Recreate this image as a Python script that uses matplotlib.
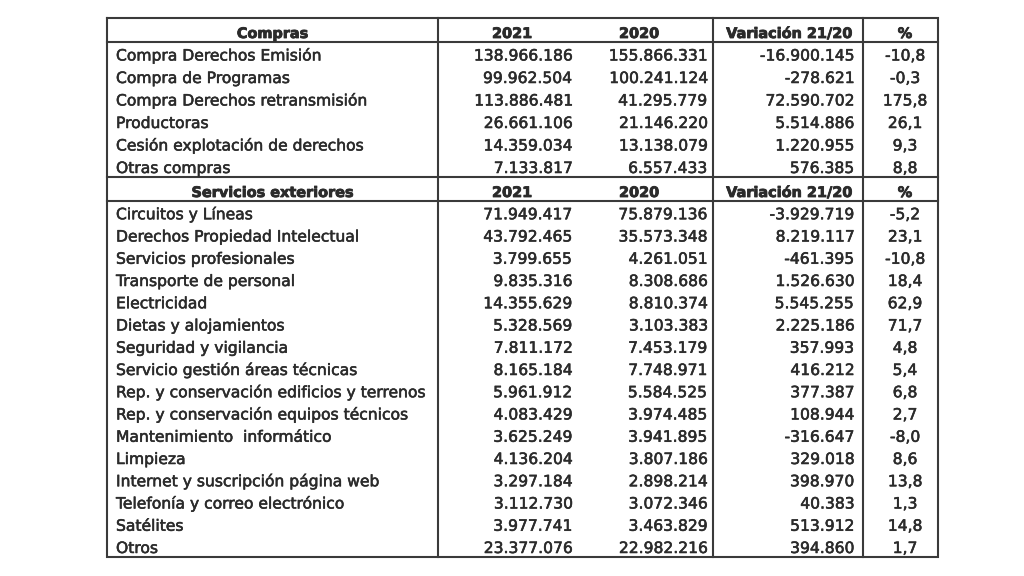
import matplotlib
matplotlib.use("Agg")
import matplotlib.pyplot as plt
import matplotlib.patheffects as pe

compras_labels = ["Compra Derechos Emisión", "Compra de Programas", "Compra Derechos retransmisión",
                  "Productoras", "Cesión explotación de derechos", "Otras compras"]
compras_2021 = [138966186, 99962504, 113886481, 26661106, 14359034, 7133817]
compras_2020 = [155866331, 100241124, 41295779, 21146220, 13138079, 6557433]
compras_var = [-16900145, -278621, 72590702, 5514886, 1220955, 576385]
compras_pct = [-10.8, -0.3, 175.8, 26.1, 9.3, 8.8]

serv_labels = ["Circuitos y Líneas", "Derechos Propiedad Intelectual", "Servicios profesionales",
               "Transporte de personal", "Electricidad", "Dietas y alojamientos",
               "Seguridad y vigilancia", "Servicio gestión áreas técnicas",
               "Rep. y conservación edificios y terrenos", "Rep. y conservación equipos técnicos",
               "Mantenimiento  informático", "Limpieza", "Internet y suscripción página web",
               "Telefonía y correo electrónico", "Satélites", "Otros"]
serv_2021 = [71949417, 43792465, 3799655, 9835316, 14355629, 5328569, 7811172, 8165184,
             5961912, 4083429, 3625249, 4136204, 3297184, 3112730, 3977741, 23377076]
serv_2020 = [75879136, 35573348, 4261051, 8308686, 8810374, 3103383, 7453179, 7748971,
             5584525, 3974485, 3941895, 3807186, 2898214, 3072346, 3463829, 22982216]
serv_var = [-3929719, 8219117, -461395, 1526630, 5545255, 2225186, 357993, 416212,
            377387, 108944, -316647, 329018, 398970, 40383, 513912, 394860]
serv_pct = [-5.2, 23.1, -10.8, 18.4, 62.9, 71.7, 4.8, 5.4, 6.8, 2.7, -8.0, 8.6, 13.8, 1.3, 14.8, 1.7]

headers_compras = ["Compras", "2021", "2020", "Variación 21/20", "%"]
headers_serv = ["Servicios exteriores", "2021", "2020", "Variación 21/20", "%"]


def fmt_int(v):
    return f"{v:,}".replace(",", ".")


def fmt_pct(v):
    return f"{v:.1f}".replace(".", ",")


FONT = "DejaVu Sans"
TXT = "#2b2b2b"
LINE = "#3a3a3a"

fig = plt.figure(figsize=(10.24, 5.76), dpi=100)
ax = fig.add_axes([0, 0, 1, 1])
ax.set_xlim(0, 1024)
ax.set_ylim(576, 0)
ax.axis("off")

left, right = 107, 938
vlines = [438, 713, 863]
top = 18
hdr1_bot = 42
sec_top = 177
sec_bot = 201
bottom = 557
rh1 = (sec_top - hdr1_bot) / len(compras_labels)
rh2 = (bottom - sec_bot) / len(serv_labels)
base_off = 4.0  # baseline sits this far above the row's bottom edge

x_label = 116
x_2021_hdr, x_2021 = 512, 572
x_2020_hdr, x_2020 = 639, 707
x_var_hdr, x_var = 789, 854
x_pct = 905
fs = 11.2
fs_h = 10.4

body_fx = [pe.withStroke(linewidth=0.4, foreground=TXT)]
head_fx = [pe.withStroke(linewidth=0.6, foreground=TXT)]


def header(ybot, hdr):
    y = ybot - base_off
    kw = dict(fontsize=fs_h, fontfamily=FONT, fontweight="bold", color=TXT, va="baseline",
              path_effects=head_fx)
    ax.text((left + vlines[0]) / 2, y, hdr[0], ha="center", **kw)
    ax.text(x_2021_hdr, y, hdr[1], ha="center", **kw)
    ax.text(x_2020_hdr, y, hdr[2], ha="center", **kw)
    ax.text(x_var_hdr, y, hdr[3], ha="center", **kw)
    ax.text(x_pct, y, hdr[4], ha="center", **kw)


def body(ybot, lab, a, b, c, d):
    y = ybot - base_off
    kw = dict(fontsize=fs, fontfamily=FONT, fontweight="normal", color=TXT, va="baseline",
              path_effects=body_fx)
    ax.text(x_label, y, lab, ha="left", **kw)
    ax.text(x_2021, y, fmt_int(a), ha="right", **kw)
    ax.text(x_2020, y, fmt_int(b), ha="right", **kw)
    ax.text(x_var, y, fmt_int(c), ha="right", **kw)
    ax.text(x_pct, y, fmt_pct(d), ha="center", **kw)


header(hdr1_bot, headers_compras)
for i in range(len(compras_labels)):
    body(hdr1_bot + rh1 * (i + 1), compras_labels[i], compras_2021[i], compras_2020[i],
         compras_var[i], compras_pct[i])
header(sec_bot, headers_serv)
for i in range(len(serv_labels)):
    body(sec_bot + rh2 * (i + 1), serv_labels[i], serv_2021[i], serv_2020[i],
         serv_var[i], serv_pct[i])

# borders
ax.plot([left, right, right, left, left], [top, top, bottom, bottom, top], color=LINE, lw=1.5,
        solid_joinstyle="miter")
for x in vlines:
    ax.plot([x, x], [top, bottom], color=LINE, lw=1.5)
for y in [hdr1_bot, sec_top, sec_bot]:
    ax.plot([left, right], [y, y], color=LINE, lw=1.5)

fig.savefig("out.png", dpi=100, facecolor="white")
